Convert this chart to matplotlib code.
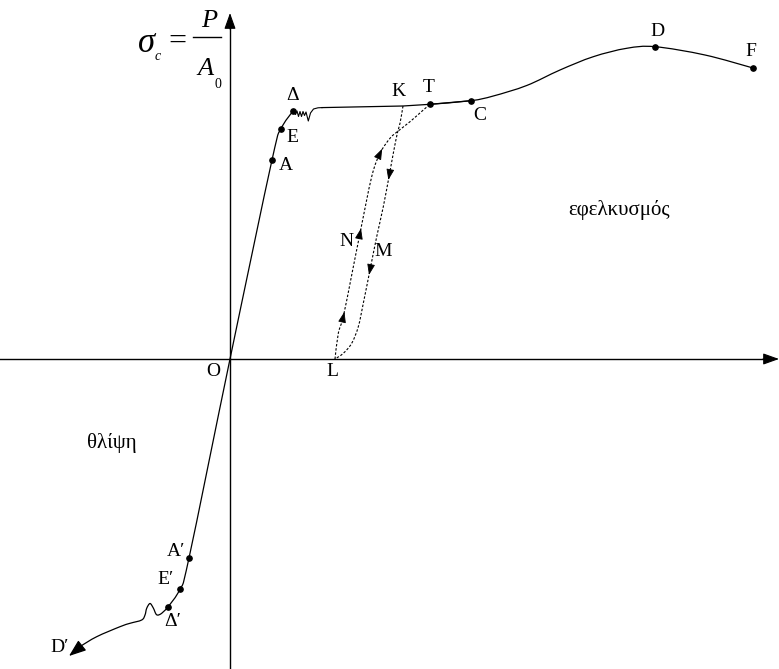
import numpy as np
import matplotlib
matplotlib.use("Agg")
import matplotlib.pyplot as plt
from matplotlib.path import Path
from matplotlib.patches import PathPatch, FancyArrowPatch

plt.rcParams['font.family'] = ['Liberation Serif', 'DejaVu Serif']

# stress-strain diagram, origin O at (0, 0)
elastic = [(-62, -248), (-50, -230), (-41, -199), (0, 0),
           (42, 199), (51, 230), (63, 248)]
yield_zigzag = [(63, 248), (65.5, 244.5), (67, 248), (68.5, 242.5), (70, 247.5),
                (71.5, 242.5), (73, 247.5), (74.5, 243.5), (76, 247), (78.3, 238),
                (80.5, 246), (83.5, 250), (88, 251.2), (92, 251.4)]
plateau = [(92, 251.4), (173, 253), (200, 254.7), (241, 258.3)]
hardening = [(200, 254.7), (241, 258.3), (263.3, 263), (296.7, 273.5), (330, 289),
             (363.3, 302.3), (396.7, 310.7), (425, 312.3), (475, 304), (523, 291)]
compression_tail = [(-62, -248), (-68.3, -254.3), (-73.3, -255.8), (-76.7, -249),
                    (-80, -244.5), (-83.3, -249.3), (-85, -256), (-88.3, -261),
                    (-100, -264.3), (-110, -267.7), (-133.3, -277.7),
                    (-150, -287.7), (-156, -293)]
tail_tip = (-161, -297)

# unloading K -> L and reloading L -> T
unload = [(173, 253), (170, 235.7), (167.3, 225.7), (163.3, 205.7), (159.3, 184),
          (153.3, 152.3), (146.7, 122.3), (140, 89), (133.3, 55.7), (128.3, 32.3),
          (121.7, 15.7), (113.3, 5.7), (105, 0)]
reload = [(105, 0), (108.3, 25.7), (113.3, 42.3), (121.7, 84), (130, 125.7),
          (141.7, 182.3), (150, 205.7), (160, 220.7), (167.3, 227.3),
          (180, 237.3), (193.3, 249), (200, 254.7)]
unload_arrows = [4, 7]
reload_arrows = [2, 4, 6]

dots = {'A': (42, 199), 'E': (51, 230), 'Δ': (63, 248), 'T': (200, 254.7),
        'C': (241, 258.3), 'D': (425, 312.3), 'F': (523, 291),
        "A′": (-41, -199), "E′": (-50, -230), "Δ′": (-62, -248)}

labels = {'O': (-17, -12), 'A': (56, 194), 'E': (62, 222), 'Δ': (63, 263),
          'K': (168, 267), 'T': (199, 271), 'C': (250, 244), 'D': (427, 327),
          'F': (521, 307), 'N': (116, 117), 'M': (153, 107), 'L': (102, -12),
          'A′': (-54, -193), 'E′': (-64, -221), 'Δ′': (-57, -263),
          'D′': (-170, -289)}


def smooth_path(pts):
    pts = np.asarray(pts, float)
    n = len(pts)
    verts = [pts[0]]
    codes = [Path.MOVETO]
    for i in range(n - 1):
        p0 = pts[max(i - 1, 0)]
        p1 = pts[i]
        p2 = pts[i + 1]
        p3 = pts[min(i + 2, n - 1)]
        verts += [p1 + (p2 - p0) / 6, p2 - (p3 - p1) / 6, p2]
        codes += [Path.CURVE4] * 3
    return Path(verts, codes)


def add_curve(ax, pts, **kw):
    ax.add_patch(PathPatch(smooth_path(pts), fill=False, capstyle='butt', **kw))


def head(ax, pts, i):
    pts = np.asarray(pts, float)
    d = pts[i + 1] - pts[i - 1]
    u = d / np.hypot(*d)
    ax.add_patch(FancyArrowPatch(pts[i] - u * 2, pts[i] + u * 5,
                                 arrowstyle='-|>,head_length=0.55,head_width=0.2',
                                 mutation_scale=12, color='black', lw=0.6,
                                 shrinkA=0, shrinkB=0))


fig = plt.figure(figsize=(7.79, 6.69), dpi=100)
ax = fig.add_axes([0, 0, 1, 1])
ax.set_xlim(-230, 549)
ax.set_ylim(-310, 359)
ax.axis('off')

# axes with arrow heads
ax.plot([0, 0], [-310, 335], color='black', lw=1.0)
ax.plot([-230, 538], [0, 0], color='black', lw=1.0)
ax.add_patch(FancyArrowPatch((0, 330), (0, 346), arrowstyle='-|>,head_length=0.7,head_width=0.25',
                             mutation_scale=14, color='black', lw=0.8, shrinkA=0, shrinkB=0))
ax.add_patch(FancyArrowPatch((533, 0), (549, 0), arrowstyle='-|>,head_length=0.7,head_width=0.25',
                             mutation_scale=14, color='black', lw=0.8, shrinkA=0, shrinkB=0))

solid = dict(edgecolor='black', lw=0.9)
add_curve(ax, elastic, **solid)
ax.plot(*zip(*yield_zigzag), color='black', lw=0.8)
ax.plot(*zip(*plateau), color='black', lw=0.9)
add_curve(ax, hardening, **solid)
add_curve(ax, compression_tail, **solid)
ax.add_patch(FancyArrowPatch(compression_tail[-1], tail_tip,
                             arrowstyle='-|>,head_length=0.75,head_width=0.28',
                             mutation_scale=14, color='black', lw=0.9,
                             shrinkA=0, shrinkB=0))

dashed = dict(edgecolor='black', lw=0.8, linestyle=(0, (2.2, 1.6)))
add_curve(ax, unload, **dashed)
add_curve(ax, reload, **dashed)
for i in unload_arrows:
    head(ax, unload, i)
for i in reload_arrows:
    head(ax, reload, i)

xs, ys = zip(*dots.values())
ax.plot(xs, ys, 'o', color='black', ms=3.8)

for name, (x, y) in labels.items():
    ax.text(x, y, name, fontsize=14, ha='center', va='center')

ax.text(389, 149, 'εφελκυσμός', fontsize=15, ha='center', va='center')
ax.text(-118, -84, 'θλίψη', fontsize=15, ha='center', va='center')

# sigma_c = P / A_0
ax.text(-83, 316, 'σ', fontsize=25, style='italic', ha='center', va='center')
ax.text(-72, 302, 'c', fontsize=10, style='italic', ha='center', va='center')
ax.text(-52.5, 317, '=', fontsize=23, ha='center', va='center')
ax.plot([-37, -9], [322, 322], color='black', lw=1.0)
ax.text(-21, 338, 'P', fontsize=19, style='italic', ha='center', va='center')
ax.text(-24, 290, 'A', fontsize=19, style='italic', ha='center', va='center')
ax.text(-12, 275, '0', fontsize=10, ha='center', va='center')

fig.savefig('out.png', dpi=100)
